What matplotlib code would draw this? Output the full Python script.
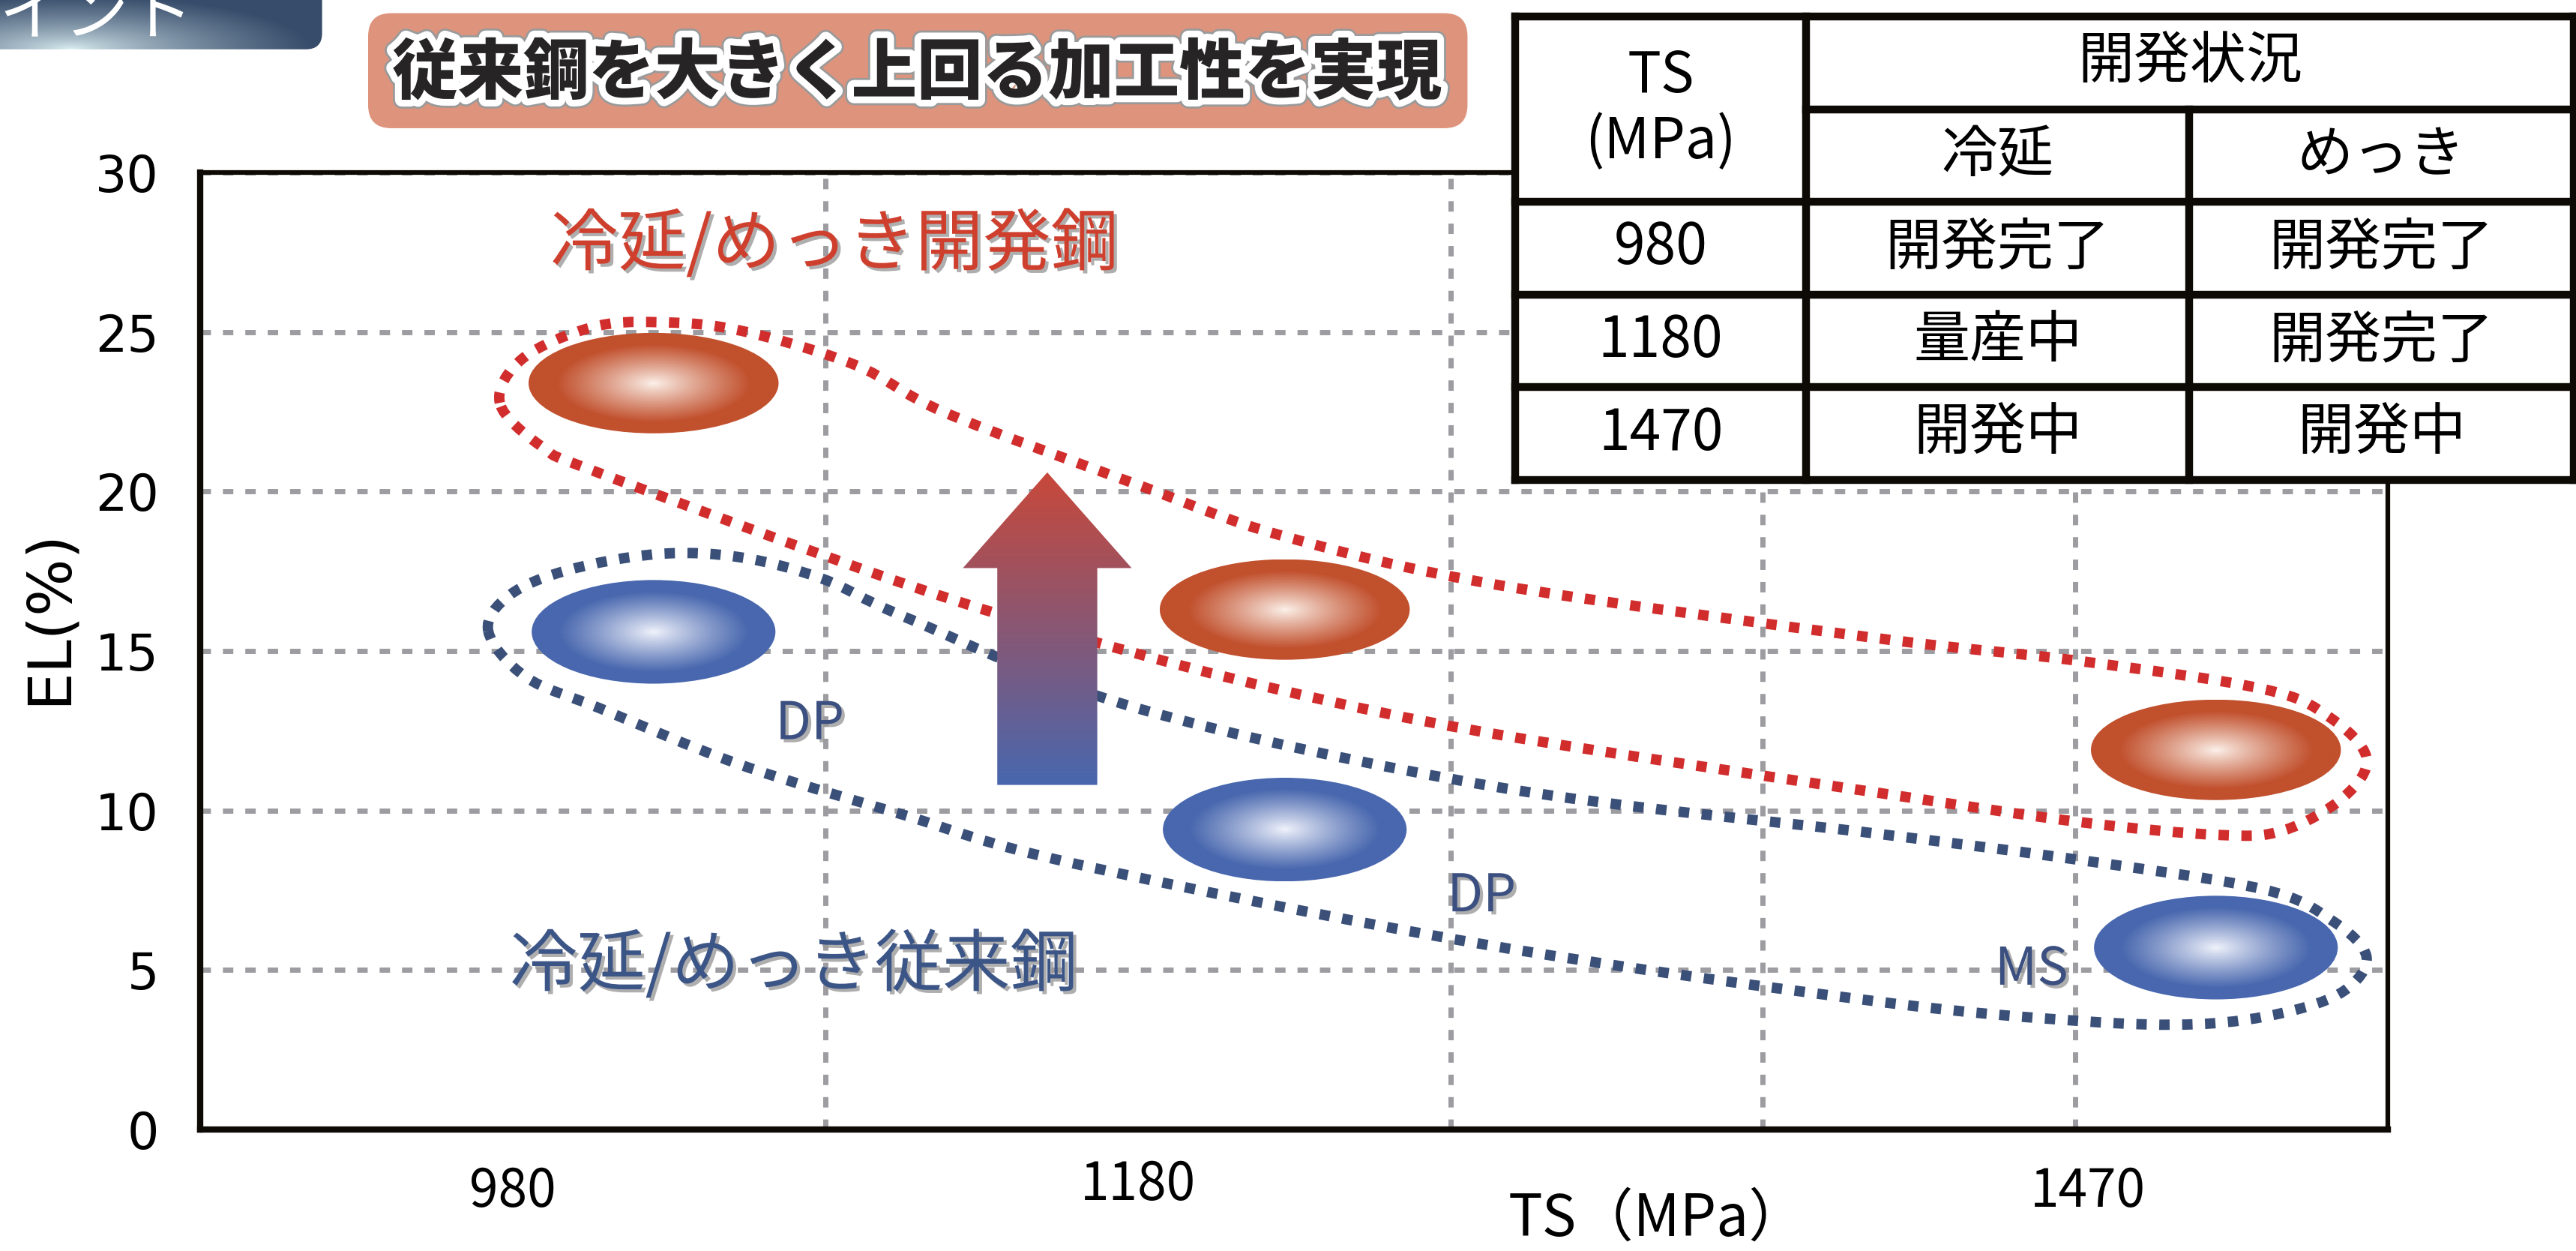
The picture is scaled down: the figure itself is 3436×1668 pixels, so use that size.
import numpy as np
import matplotlib
matplotlib.use("Agg")
import matplotlib.pyplot as plt
from matplotlib.patches import Ellipse, Polygon, FancyBboxPatch, PathPatch
from matplotlib.path import Path
from matplotlib import patheffects as pe
from matplotlib.transforms import ScaledTranslation

plt.rcParams['font.family'] = ['Noto Sans CJK JP', 'DejaVu Sans']

# --- data ---
ts_labels = ["980", "1180", "1470"]
ts_tick_x = [1.0, 3.0, 6.04]          # grid-column units
steel_x = [1.45, 3.47, 6.45]
new_el = [23.4, 16.3, 11.9]           # developed steels
old_el = [15.6, 9.4, 5.7]             # conventional steels
old_grade = ["DP", "DP", "MS"]
grade_x = [1.95, 4.10, 5.86]
grade_y = [12.7, 7.3, 5.0]
cold_status = ["開発完了", "量産中", "開発中"]
plated_status = ["開発完了", "開発完了", "開発中"]

red_loop_x = [0.958, 1.032, 1.253, 1.463, 1.726, 2.095, 2.384, 3.0, 3.463, 4.158, 5.358, 6.011, 6.6,
              6.811, 6.932, 6.858, 6.668, 6.463, 6.011, 5.358, 4.158, 3.463, 2.853, 2.237, 1.279, 1.095]
red_loop_y = [22.78, 24.18, 25.15, 25.31, 25.05, 23.97, 22.47, 20.21, 18.61, 17.06, 15.41, 14.69, 13.81,
              12.94, 11.65, 10.41, 9.38, 9.23, 9.64, 10.57, 12.37, 13.76, 15.31, 17.16, 20.57, 21.39]
blue_loop_x = [0.921, 0.989, 1.174, 1.463, 1.726, 1.989, 2.263, 3.0, 4.158, 5.358, 6.011, 6.6, 6.821,
               6.932, 6.858, 6.668, 6.395, 6.011, 5.358, 4.095, 2.789, 2.237, 1.726, 1.279, 1.042]
blue_loop_y = [15.62, 16.75, 17.53, 18.04, 17.94, 17.27, 16.03, 13.20, 10.72, 9.28, 8.45, 7.53, 6.55,
               5.41, 4.33, 3.66, 3.30, 3.40, 4.02, 5.82, 8.35, 9.90, 11.44, 13.20, 14.18]

RED_OUT = np.array([193, 80, 45]) / 255
RED_IN = np.array([252, 242, 235]) / 255
BLUE_OUT = np.array([72, 103, 174]) / 255
BLUE_IN = np.array([242, 244, 252]) / 255
NARROW = ['Noto Sans CJK JP', 'DejaVu Sans']


def grad_ellipse(ax, cx, cy, w, h, outer, inner):
    xs = np.linspace(cx - w / 2, cx + w / 2, 240)
    ys = np.linspace(cy - h / 2, cy + h / 2, 120)
    X, Y = np.meshgrid(xs, ys)
    r = np.sqrt(((X - cx) / (w / 2)) ** 2 + ((Y - cy) / (h / 2)) ** 2)
    t = np.clip(r / 0.78, 0, 1)[..., None] ** 0.9
    img = inner * (1 - t) + outer * t
    im = ax.imshow(img, extent=(cx - w / 2, cx + w / 2, cy - h / 2, cy + h / 2), origin='lower',
                   aspect='auto', zorder=4, interpolation='bilinear')
    e = Ellipse((cx, cy), w, h, facecolor='none', edgecolor='none')
    ax.add_patch(e)
    im.set_clip_path(e)


def smooth_loop(xs, ys):
    P = np.column_stack([xs, ys])
    n = len(P)
    verts = [P[0]]
    codes = [Path.MOVETO]
    for i in range(n):
        p0, p1, p2, p3 = P[i - 1], P[i], P[(i + 1) % n], P[(i + 2) % n]
        verts += [p1 + (p2 - p0) / 6, p2 - (p3 - p1) / 6, p2]
        codes += [Path.CURVE4] * 3
    return Path(verts, codes)


fig = plt.figure(figsize=(34.37, 16.68), dpi=100)

ax = fig.add_axes([122 / 1568, 74 / 761, 1331 / 1568, 582 / 761])
ax.set_xlim(0, 7)
ax.set_ylim(0, 30)

# grid
grid_style = dict(color='#9c9ca1', lw=5, linestyle=(0, (2.0, 2.3)), zorder=0)
ax.set_yticks(range(0, 31, 5))
ax.set_xticks(range(1, 7), minor=True)
ax.set_xticks(ts_tick_x, ts_labels)
ax.grid(True, axis='y', **grid_style)
ax.grid(True, axis='x', which='minor', **grid_style)
ax.set_axisbelow(True)
ax.tick_params(axis='both', which='both', length=0)
ax.tick_params(axis='y', labelsize=48, pad=40)
ax.tick_params(axis='x', labelsize=50, pad=34)
for lbl in ax.get_yticklabels():
    lbl.set_fontfamily('DejaVu Sans')
for lbl in ax.get_xticklabels():
    lbl.set_fontfamily(NARROW)
    if lbl.get_text() == "1180":
        lbl.set_transform(lbl.get_transform() + ScaledTranslation(0, 0.09, fig.dpi_scale_trans))
for side in ['left', 'bottom']:
    ax.spines[side].set_linewidth(6)
for side in ['top', 'right']:
    ax.spines[side].set_linewidth(4.5)
for s in ax.spines.values():
    s.set_color('#0d0904')

# dotted envelopes
loop_style = dict(fill=False, lw=10, linestyle=(0, (1.0, 1.2)), capstyle='butt', zorder=3)
ax.add_patch(PathPatch(smooth_loop(blue_loop_x, blue_loop_y), edgecolor='#3b5078', **loop_style))
ax.add_patch(PathPatch(smooth_loop(red_loop_x, red_loop_y), edgecolor='#d22d2d', **loop_style))

# gradient ellipses
for x, yn, yo in zip(steel_x, new_el, old_el):
    grad_ellipse(ax, x, yn, 0.80, 3.15, RED_OUT, RED_IN)
    grad_ellipse(ax, x, yo, 0.78, 3.25, BLUE_OUT, BLUE_IN)

# gradient arrow
ax_c, a_base, a_tip, a_head = 2.71, 10.8, 20.6, 17.6
arrow_xy = [(ax_c - 0.16, a_base), (ax_c + 0.16, a_base), (ax_c + 0.16, a_head), (ax_c + 0.27, a_head),
            (ax_c, a_tip), (ax_c - 0.27, a_head), (ax_c - 0.16, a_head)]
arrow = Polygon(arrow_xy, closed=True, facecolor='none', edgecolor='none')
ax.add_patch(arrow)
tt = np.linspace(0, 1, 200)[:, None, None]
col_top = np.array([200, 72, 58]) / 255
grad = BLUE_OUT * (1 - tt) + col_top * tt
im = ax.imshow(np.repeat(grad, 2, axis=1), extent=(ax_c - 0.27, ax_c + 0.27, a_base, a_tip),
               origin='lower', aspect='auto', zorder=5)
im.set_clip_path(arrow)

ax.set_xlim(0, 7)
ax.set_ylim(0, 30)

shadow = [pe.withSimplePatchShadow(offset=(3, -3), shadow_rgbFace='#9a9a9a', alpha=0.8)]
ax.text(1.12, 27.7, "冷延/めっき開発鋼", color='#cf3f2d', fontsize=65, ha='left', va='center',
        path_effects=shadow, zorder=6)
ax.text(0.99, 5.1, "冷延/めっき従来鋼", color='#3c5587', fontsize=65, ha='left', va='center',
        path_effects=shadow, zorder=6)
for g, gx, gy in zip(old_grade, grade_x, grade_y):
    ax.text(gx, gy, g, color='#3b5080', fontsize=50, ha='center', va='center', family=NARROW,
            path_effects=shadow, zorder=6)

# axis titles
fig.text(0.019, 0.507, "EL(%)", rotation=90, ha='center', va='center', fontsize=58, family='DejaVu Sans')
fig.text(0.643, 0.025, "TS（MPa）", ha='center', va='center', fontsize=55, family=NARROW)

# title box
fig.patches.append(FancyBboxPatch((224 / 1568, 683 / 761), 669 / 1568, 70 / 761,
                                  boxstyle="round,pad=0,rounding_size=0.009", mutation_aspect=3437 / 1668,
                                  transform=fig.transFigure, facecolor='#de937c', edgecolor='none'))
fig.text(558 / 1568, 1 - 45 / 761, "従来鋼を大きく上回る加工性を実現", ha='center', va='center',
         fontsize=63, fontweight='black', color='#262424',
         path_effects=[pe.Stroke(linewidth=17, foreground='#9a9a9a'),
                       pe.Stroke(linewidth=13, foreground='white'), pe.Normal()])

# top-left tab
tab = fig.add_axes([0, 731 / 761, 196 / 1568, 30 / 761])
tab.set_xlim(0, 1)
tab.set_ylim(0, 1)
tab.axis('off')
gx, gy = np.meshgrid(np.linspace(0, 1, 300), np.linspace(0, 1, 60))
rr = np.clip(np.sqrt(((gx - 0.22) / 0.75) ** 2 + (gy / 1.1) ** 2), 0, 1)[..., None] ** 0.7
dark = np.array([55, 76, 106]) / 255
light = np.array([225, 245, 248]) / 255
tab_im = tab.imshow(light * (1 - rr) + dark * rr, extent=(0, 1, 0, 1), origin='lower', aspect='auto')
tab_shape = FancyBboxPatch((-0.5, 0), 1.5, 2, boxstyle="round,pad=0,rounding_size=0.05",
                           mutation_aspect=196 / 30, transform=tab.transAxes, facecolor='none',
                           edgecolor='none')
tab.add_patch(tab_shape)
tab_im.set_clip_path(tab_shape)
tab.text(-0.2, 0.3, "ポイント", color='white', fontsize=62, ha='left', va='baseline', clip_on=True)

# status table
tb = fig.add_axes([922 / 1568, 469 / 761, 644 / 1568, 282 / 761], zorder=10)
tb.set_xlim(0, 1)
tb.set_ylim(1, 0)
tb.axis('off')
tb.add_patch(plt.Rectangle((0, 0), 1, 1, facecolor='white', edgecolor='none', zorder=0))
cols = [0, 0.275, 0.637, 1.0]
rows = [0, 0.2, 0.4, 0.6, 0.8, 1.0]
lk = dict(color='#0d0904', lw=7.5, clip_on=False, solid_capstyle='projecting')
for r in rows:
    x0 = cols[1] if r == 0.2 else 0
    tb.plot([x0, 1], [r, r], **lk)
for c in cols:
    y0 = 0.2 if c == cols[2] else 0
    tb.plot([c, c], [y0, 1], **lk)
tfs = 54
tb.text(0.1375, 0.2, "TS\n(MPa)", ha='center', va='center', fontsize=tfs, family=NARROW, linespacing=1.2)
tb.text(0.6375, 0.1, "開発状況", ha='center', va='center', fontsize=tfs)
tb.text(0.456, 0.3, "冷延", ha='center', va='center', fontsize=tfs)
tb.text(0.8185, 0.3, "めっき", ha='center', va='center', fontsize=tfs)
for i, (ts, c1, c2) in enumerate(zip(ts_labels, cold_status, plated_status)):
    yc = 0.5 + 0.2 * i
    tb.text(0.1375, yc, ts, ha='center', va='center', fontsize=tfs, family=NARROW)
    tb.text(0.456, yc, c1, ha='center', va='center', fontsize=tfs)
    tb.text(0.8185, yc, c2, ha='center', va='center', fontsize=tfs)

fig.savefig("out.png", dpi=100)
